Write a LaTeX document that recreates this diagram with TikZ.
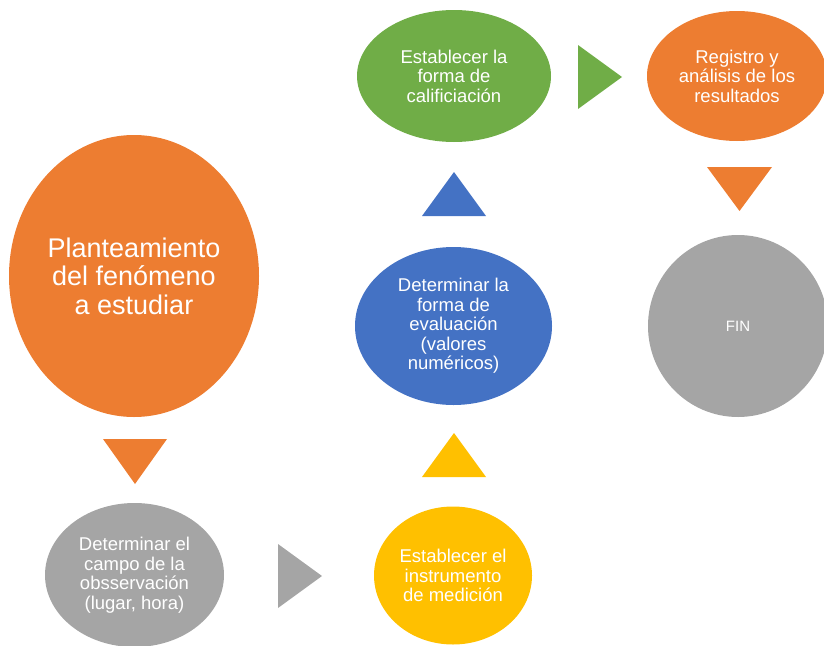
\documentclass[tikz,border=0pt]{standalone}
\usepackage{fontspec}
\setmainfont{Liberation Sans}
\usetikzlibrary{shapes.geometric}
\definecolor{offorange}{HTML}{ED7D31}
\definecolor{offgray}{HTML}{A5A5A5}
\definecolor{offyellow}{HTML}{FFC000}
\definecolor{offblue}{HTML}{4472C4}
\definecolor{offgreen}{HTML}{70AD47}
\tikzset{
  bubble/.style={ellipse, inner sep=0pt, text=white, align=center,
    font=\fontsize{18.5}{19.5}\selectfont},
  bigbubble/.style={bubble, font=\fontsize{27}{28.5}\selectfont},
}
\begin{document}
\begin{tikzpicture}[x=1pt,y=-1pt]
\useasboundingbox (0,0) rectangle (824,645);
% ellipses
\node[bigbubble, fill=offorange, minimum width=250pt, minimum height=282pt] (plan) at (134,276)
  {Planteamiento\\del fenómeno\\a estudiar};
\node[bubble, fill=offgray, minimum width=179pt, minimum height=144pt] (campo) at (134.5,575)
  {Determinar el\\campo de la\\obsservación\\(lugar, hora)};
\node[bubble, fill=offyellow, minimum width=158pt, minimum height=138pt] (instr) at (453,575.5)
  {Establecer el\\instrumento\\de medición};
\node[bubble, fill=offblue, minimum width=197pt, minimum height=158pt] (eval) at (453.5,326)
  {Determinar la\\forma de\\evaluación\\(valores\\numéricos)};
\node[bubble, fill=offgreen, minimum width=194pt, minimum height=132pt] (calif) at (454,76)
  {Establecer la\\forma de\\calificiación};
\node[bubble, fill=offorange, minimum width=180pt, minimum height=130pt] (regis) at (737,76)
  {Registro y\\análisis de los\\resultados};
\node[bubble, fill=offgray, minimum width=180pt, minimum height=182pt, font=\fontsize{15}{18}\selectfont] (fin) at (738,326)
  {FIN};
% arrow triangles
\coordinate (t1) at (135,439);
\coordinate (t2) at (278,544);
\coordinate (t3) at (454,433);
\coordinate (t4) at (454,172);
\coordinate (t5) at (578,45);
\coordinate (t6) at (739.5,167);
\fill[offorange] (t1) ++(-32,0) -- ++(64,0) -- ++(-32,45) -- cycle;
\fill[offgray] (t2) -- ++(0,64) -- ++(44,-32) -- cycle;
\fill[offyellow] (t3) -- ++(32,44) -- ++(-64,0) -- cycle;
\fill[offblue] (t4) -- ++(32,44) -- ++(-64,0) -- cycle;
\fill[offgreen] (t5) -- ++(0,64) -- ++(44,-32) -- cycle;
\fill[offorange] (t6) ++(-32.5,0) -- ++(65,0) -- ++(-32.5,44) -- cycle;
\end{tikzpicture}
\end{document}
